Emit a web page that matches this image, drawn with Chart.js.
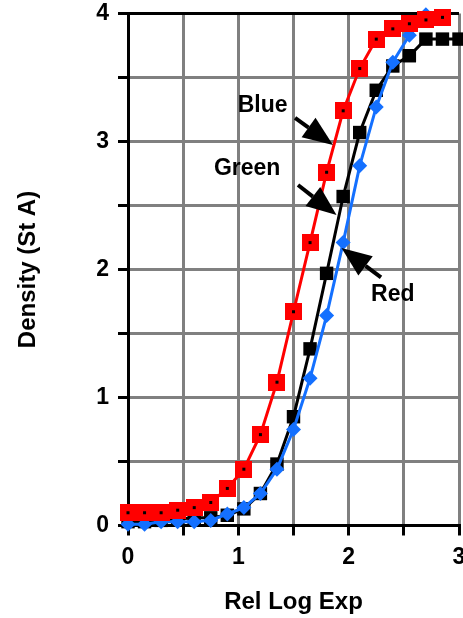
<!DOCTYPE html>
<html>
<head>
<meta charset="utf-8">
<script src="https://cdn.jsdelivr.net/npm/chart.js@4.4.0/dist/chart.umd.min.js"></script>
<style>
  body { margin: 0; background: #fff; }
</style>
</head>
<body>
<canvas id="density" width="463" height="618"></canvas>
<script>
// relative log exposure steps (shared by all three curves)
const logExp = [0, 0.15, 0.3, 0.45, 0.6, 0.75, 0.9, 1.05, 1.2, 1.35, 1.5,
                1.65, 1.8, 1.95, 2.1, 2.25, 2.4, 2.55, 2.7, 2.85, 3.0];

// density readings, named after the colour they are drawn in
const redDensity = [0.10, 0.10, 0.10, 0.12, 0.14, 0.18, 0.29, 0.44, 0.71, 1.12,
                    1.67, 2.21, 2.76, 3.24, 3.57, 3.80, 3.88, 3.92, 3.95, 3.97];
const blackDensity = [0.03, 0.03, 0.04, 0.05, 0.06, 0.06, 0.08, 0.13, 0.25, 0.48,
                      0.85, 1.38, 1.97, 2.57, 3.07, 3.40, 3.59, 3.67, 3.80, 3.80, 3.80];
const blueDensity = [0.01, 0.01, 0.03, 0.03, 0.03, 0.04, 0.09, 0.14, 0.25, 0.44,
                     0.75, 1.15, 1.64, 2.21, 2.81, 3.27, 3.62, 3.83, 3.99];

// callout labels and their arrows (data units)
const noteText = ["Blue", "Green", "Red"];
const noteX = [1.22, 1.08, 2.40];
const noteY = [3.28, 2.79, 1.80];
const arrowFromX = [1.514, 1.541, 2.293];
const arrowFromY = [3.184, 2.660, 1.938];
const arrowToX = [1.858, 1.890, 1.935];
const arrowToY = [2.973, 2.426, 2.168];

const xTicks = [0, 1, 2, 3];
const yTicks = [0, 1, 2, 3, 4];

const FONT = '"Liberation Sans", Arial, sans-serif';

function toPoints(ys) {
    return ys.map((v, i) => ({ x: logExp[i], y: v }));
}

// red square with a small black dot in the middle
function redMarker() {
    const c = document.createElement('canvas');
    c.width = 17; c.height = 17;
    const g = c.getContext('2d');
    g.fillStyle = '#ff0000';
    g.fillRect(0, 0, 17, 17);
    g.fillStyle = '#000';
    g.fillRect(7, 7, 3, 3);
    return c;
}

const arrowNotes = {
    id: 'arrowNotes',
    afterDatasetsDraw(chart) {
        const { ctx, scales: { x, y } } = chart;
        ctx.save();
        ctx.fillStyle = '#000';
        ctx.strokeStyle = '#000';
        ctx.font = 'bold 23px ' + FONT;
        ctx.textAlign = 'center';
        ctx.textBaseline = 'middle';
        for (let i = 0; i < noteText.length; i++) {
            ctx.fillText(noteText[i], x.getPixelForValue(noteX[i]), y.getPixelForValue(noteY[i]));

            const x0 = x.getPixelForValue(arrowFromX[i]);
            const y0 = y.getPixelForValue(arrowFromY[i]);
            const x1 = x.getPixelForValue(arrowToX[i]);
            const y1 = y.getPixelForValue(arrowToY[i]);
            const len = Math.hypot(x1 - x0, y1 - y0);
            const ux = (x1 - x0) / len, uy = (y1 - y0) / len;
            const headLen = 30, headW = 12;
            const bx = x1 - ux * headLen, by = y1 - uy * headLen;

            ctx.lineWidth = 4;
            ctx.beginPath();
            ctx.moveTo(x0, y0);
            ctx.lineTo(bx, by);
            ctx.stroke();

            ctx.beginPath();
            ctx.moveTo(x1, y1);
            ctx.lineTo(bx - uy * headW, by + ux * headW);
            ctx.lineTo(bx + uy * headW, by - ux * headW);
            ctx.closePath();
            ctx.fill();
        }
        ctx.restore();
    }
};

const ctx = document.getElementById('density').getContext('2d');

new Chart(ctx, {
    type: 'line',
    data: {
        datasets: [{
            label: 'red',
            data: toPoints(redDensity),
            borderColor: '#ff0000',
            borderWidth: 3,
            pointStyle: redMarker(),
            clip: false
        }, {
            label: 'blue',
            data: toPoints(blueDensity),
            borderColor: '#1470ff',
            backgroundColor: '#1470ff',
            borderWidth: 3,
            pointStyle: 'rectRot',
            pointRadius: 7.5,
            pointBorderWidth: 0,
            clip: false
        }, {
            label: 'black',
            data: toPoints(blackDensity),
            borderColor: '#000',
            backgroundColor: '#000',
            borderWidth: 3,
            pointStyle: 'rect',
            pointRadius: 9.5,
            pointBorderWidth: 0,
            clip: false
        }]
    },
    options: {
        responsive: false,
        animation: false,
        layout: {
            // point overflow would otherwise widen the right margin
            autoPadding: false,
            padding: { top: 13.5, right: 4, left: 0, bottom: 0 }
        },
        plugins: {
            legend: { display: false },
            tooltip: { enabled: false }
        },
        scales: {
            x: {
                type: 'linear',
                min: 0,
                max: 3,
                afterFit: (s) => { s.height = 92.5; s.paddingLeft = 0; s.paddingRight = 0; },
                ticks: {
                    stepSize: 0.5,
                    autoSkip: false,
                    maxRotation: 0,
                    padding: 8,
                    color: '#000',
                    font: { family: FONT, size: 23, weight: 'bold' },
                    callback: (v) => xTicks.includes(v) ? String(v) : ''
                },
                grid: {
                    color: '#808080',
                    lineWidth: 3,
                    tickColor: '#000',
                    tickLength: 10,
                    tickWidth: 3
                },
                border: { color: '#000', width: 3 },
                title: {
                    display: true,
                    text: 'Rel Log Exp',
                    color: '#000',
                    padding: { top: 0, bottom: 1 },
                    font: { family: FONT, size: 24, weight: 'bold' }
                }
            },
            y: {
                type: 'linear',
                min: 0,
                max: 4,
                afterFit: (s) => { s.width = 128; s.paddingTop = 0; s.paddingBottom = 0; },
                ticks: {
                    stepSize: 0.5,
                    autoSkip: false,
                    padding: 9,
                    color: '#000',
                    font: { family: FONT, size: 23, weight: 'bold' },
                    callback: (v) => yTicks.includes(v) ? String(v) : ''
                },
                grid: {
                    color: (c) => c.tick && c.tick.value === 4 ? '#000' : '#808080',
                    lineWidth: 3,
                    tickColor: '#000',
                    tickLength: 10,
                    tickWidth: 3
                },
                border: { color: '#000', width: 3 },
                title: {
                    display: true,
                    text: 'Density (St A)',
                    color: '#000',
                    padding: { top: 14, bottom: 0 },
                    font: { family: FONT, size: 24, weight: 'bold' }
                }
            }
        }
    },
    plugins: [arrowNotes]
});
</script>
</body>
</html>
